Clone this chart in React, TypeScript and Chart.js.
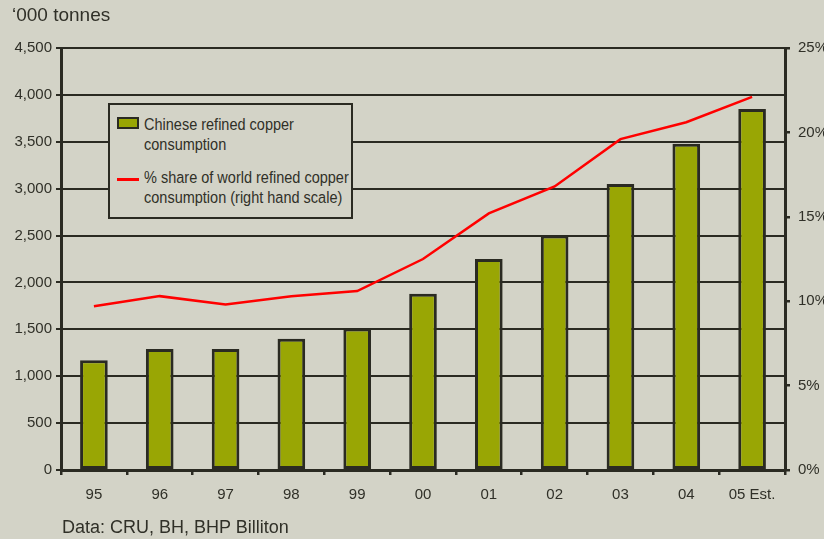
import React, { useEffect, useRef } from "react";
import { Chart, registerables } from "chart.js";

Chart.register(...registerables);

const categories = ["95", "96", "97", "98", "99", "00", "01", "02", "03", "04", "05 Est."];
const consumption = [1170, 1290, 1290, 1400, 1510, 1880, 2250, 2500, 3050, 3480, 3850];
const worldShare = [9.7, 10.3, 9.8, 10.3, 10.6, 12.5, 15.2, 16.8, 19.6, 20.6, 22.1];
const leftTicks = { min: 0, max: 4500, step: 500 };
const rightTicks = { min: 0, max: 25, step: 5 };

const BG = "#d3d3c7";
const DARK = "#2a2a22";
const TEXT = "#303028";
const FONT = "'Liberation Sans', Arial, sans-serif";

export default function App() {
  const ref = useRef<HTMLCanvasElement | null>(null);

  useEffect(() => {
    document.body.style.margin = "0";
    const ctx = ref.current;
    if (!ctx) return;
    const chart = new Chart(ctx, {
      type: "bar",
      data: {
        labels: categories,
        datasets: [
          {
            type: "line",
            label: "% share of world refined copper consumption (right hand scale)",
            data: worldShare,
            yAxisID: "y1",
            borderColor: "#ff0000",
            borderWidth: 2.5,
            pointRadius: 0,
            tension: 0,
            order: 0,
          },
          {
            type: "bar",
            label: "Chinese refined copper consumption",
            data: consumption,
            yAxisID: "y",
            backgroundColor: "#99a604",
            borderColor: DARK,
            borderWidth: 3,
            borderSkipped: false,
            categoryPercentage: 1,
            barPercentage: 0.42,
            order: 1,
          },
        ],
      } as any,
      options: {
        animation: false,
        responsive: false,
        layout: { padding: { top: 48, left: 0, right: 0, bottom: 0 } },
        plugins: { legend: { display: false }, tooltip: { enabled: false }, title: { display: false } },
        scales: {
          x: {
            afterFit: (s: any) => { s.height = 69; },
            grid: { display: true, drawOnChartArea: false, drawTicks: true, tickLength: 5, color: DARK, lineWidth: 2.5, offset: true },
            border: { display: true, color: DARK, width: 3 },
            ticks: { color: TEXT, font: { family: FONT, size: 15 }, padding: 11, maxRotation: 0, autoSkip: false },
          },
          y: {
            position: "left",
            min: leftTicks.min,
            max: leftTicks.max,
            afterFit: (s: any) => { s.width = 61; },
            grid: { color: DARK, lineWidth: 2, tickLength: 5, drawTicks: true },
            border: { display: true, color: DARK, width: 3 },
            ticks: {
              stepSize: leftTicks.step,
              color: TEXT,
              font: { family: FONT, size: 15 },
              padding: 4,
              callback: (v: any) => Number(v).toLocaleString("en-US"),
            },
          },
          y1: {
            position: "right",
            min: rightTicks.min,
            max: rightTicks.max,
            afterFit: (s: any) => { s.width = 39; },
            grid: { drawOnChartArea: false, color: DARK, lineWidth: 2.5, tickLength: 5, drawTicks: true },
            border: { display: true, color: DARK, width: 3 },
            ticks: {
              stepSize: rightTicks.step,
              color: TEXT,
              font: { family: FONT, size: 15 },
              padding: 8,
              callback: (v: any) => v + "%",
            },
          },
        },
      } as any,
    });
    return () => chart.destroy();
  }, []);

  const legendText: React.CSSProperties = {
    position: "absolute",
    left: 34,
    fontFamily: FONT,
    fontSize: 14.5,
    lineHeight: "18px",
    color: TEXT,
    whiteSpace: "nowrap",
    transform: "scaleY(1.1)",
    transformOrigin: "left top",
  };

  return (
    <div style={{ position: "fixed", left: 0, top: 0, width: 824, height: 539, background: BG, overflow: "hidden" }}>
      <canvas ref={ref} width={824} height={539} style={{ position: "absolute", left: 0, top: 0 }} />
      <div style={{ position: "absolute", left: 12, top: 5, fontFamily: FONT, fontSize: 19, lineHeight: "19px", color: TEXT, whiteSpace: "nowrap" }}>
        ‘000 tonnes
      </div>
      <div style={{ position: "absolute", left: 62, top: 518, fontFamily: FONT, fontSize: 18, lineHeight: "18px", color: TEXT, whiteSpace: "nowrap" }}>
        Data: CRU, BH, BHP Billiton
      </div>
      <div style={{ position: "absolute", left: 108, top: 103, width: 241, height: 112, border: `2px solid ${DARK}`, background: BG, overflow: "hidden" }}>
        <div style={{ position: "absolute", left: 7, top: 12, width: 18, height: 8, background: "#99a604", border: `2px solid ${DARK}` }} />
        <div style={{ ...legendText, top: 10 }}>
          Chinese refined copper
          <br />
          consumption
        </div>
        <div style={{ position: "absolute", left: 7, top: 73, width: 22, height: 3, background: "#ff0000" }} />
        <div style={{ ...legendText, top: 63 }}>
          % share of world refined copper
          <br />
          consumption (right hand scale)
        </div>
      </div>
    </div>
  );
}
